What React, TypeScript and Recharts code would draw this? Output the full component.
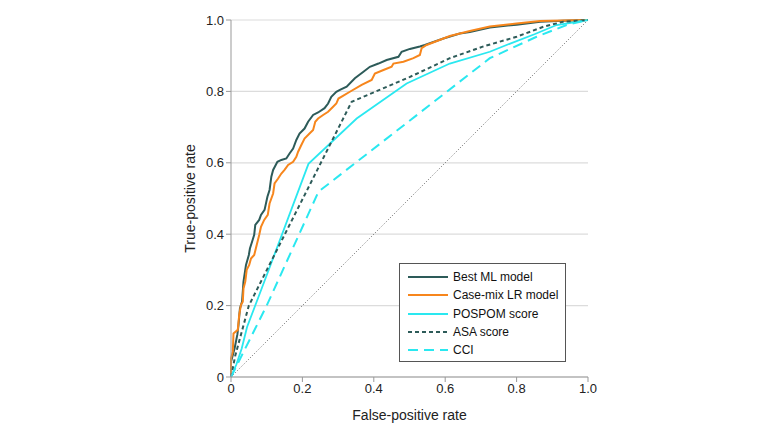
import React from 'react';
import { CartesianGrid, Line, LineChart, XAxis, YAxis } from 'recharts';

// ROC curves (false-positive rate / true-positive rate)
const mlFpr = [0, 0, 0.01, 0.018, 0.021, 0.025, 0.031, 0.035, 0.042, 0.05, 0.053, 0.059, 0.065, 0.068, 0.079, 0.084, 0.094, 0.102, 0.108, 0.113, 0.118, 0.13, 0.141, 0.155, 0.164, 0.174, 0.183, 0.192, 0.206, 0.216, 0.23, 0.244, 0.262, 0.272, 0.281, 0.295, 0.305, 0.324, 0.347, 0.371, 0.389, 0.413, 0.436, 0.469, 0.478, 0.501, 0.529, 0.543, 0.595, 0.641, 0.669, 0.725, 0.8, 0.866, 0.93, 1];
const mlTpr = [0, 0.043, 0.08, 0.12, 0.146, 0.192, 0.211, 0.267, 0.314, 0.342, 0.36, 0.379, 0.398, 0.426, 0.44, 0.454, 0.468, 0.505, 0.524, 0.561, 0.58, 0.603, 0.608, 0.612, 0.626, 0.64, 0.664, 0.682, 0.696, 0.715, 0.734, 0.741, 0.753, 0.766, 0.785, 0.799, 0.804, 0.813, 0.837, 0.855, 0.869, 0.878, 0.888, 0.897, 0.911, 0.919, 0.926, 0.93, 0.948, 0.962, 0.966, 0.979, 0.987, 0.995, 0.998, 1];

const lrFpr = [0, 0, 0.005, 0.007, 0.019, 0.023, 0.028, 0.033, 0.035, 0.04, 0.044, 0.051, 0.056, 0.065, 0.072, 0.079, 0.084, 0.093, 0.103, 0.108, 0.118, 0.122, 0.132, 0.141, 0.15, 0.16, 0.174, 0.183, 0.188, 0.197, 0.206, 0.22, 0.23, 0.236, 0.244, 0.258, 0.272, 0.286, 0.295, 0.301, 0.333, 0.366, 0.394, 0.403, 0.427, 0.45, 0.455, 0.483, 0.511, 0.529, 0.534, 0.548, 0.613, 0.669, 0.725, 0.8, 0.866, 1];
const lrTpr = [0, 0.052, 0.071, 0.122, 0.132, 0.174, 0.202, 0.211, 0.248, 0.267, 0.3, 0.314, 0.332, 0.342, 0.37, 0.398, 0.421, 0.44, 0.454, 0.486, 0.514, 0.542, 0.556, 0.57, 0.58, 0.594, 0.603, 0.617, 0.631, 0.65, 0.668, 0.682, 0.692, 0.715, 0.724, 0.734, 0.743, 0.757, 0.766, 0.78, 0.799, 0.818, 0.832, 0.85, 0.86, 0.869, 0.878, 0.883, 0.893, 0.902, 0.921, 0.93, 0.955, 0.969, 0.982, 0.99, 0.997, 1];

const pospomFpr = [0, 0.015, 0.03, 0.045, 0.1, 0.217, 0.352, 0.492, 0.613, 0.725, 0.782, 0.85, 0.912, 1];
const pospomTpr = [0, 0.035, 0.08, 0.14, 0.285, 0.597, 0.724, 0.822, 0.878, 0.911, 0.934, 0.96, 0.986, 1];

const asaFpr = [0, 0.012, 0.05, 0.338, 0.5, 0.613, 0.707, 0.8, 0.875, 0.93, 1];
const asaTpr = [0, 0.06, 0.2, 0.771, 0.84, 0.893, 0.926, 0.953, 0.981, 0.995, 1];

const cciFpr = [0, 0.03, 0.1, 0.245, 0.725, 0.856, 0.94, 1];
const cciTpr = [0, 0.06, 0.2, 0.519, 0.893, 0.953, 0.986, 1];

const refFpr = [0, 1];
const refTpr = [0, 1];

const ticks = [0, 0.2, 0.4, 0.6, 0.8, 1];

const toPoints = (fpr: number[], tpr: number[]) =>
  fpr.map((f, i) => ({ fpr: f, tpr: tpr[i] }));

const series = [
  { name: 'Best ML model', data: toPoints(mlFpr, mlTpr), color: '#2d5b59', dash: undefined, width: 2 },
  { name: 'Case-mix LR model', data: toPoints(lrFpr, lrTpr), color: '#f7861c', dash: undefined, width: 2 },
  { name: 'POSPOM score', data: toPoints(pospomFpr, pospomTpr), color: '#2ae8f0', dash: undefined, width: 1.8 },
  { name: 'ASA score', data: toPoints(asaFpr, asaTpr), color: '#2d5b59', dash: '4 3', width: 2 },
  { name: 'CCI', data: toPoints(cciFpr, cciTpr), color: '#2ae8f0', dash: '10 6', width: 2 },
];

const font = '"Liberation Sans", Arial, sans-serif';

// legend drawn as a box over the lower right of the plot
const LegendBox = () => (
  <div
    style={{
      position: 'absolute',
      left: 399,
      top: 263,
      border: '1px solid #555',
      background: '#fff',
      padding: '4px 0 0 8px',
      boxSizing: 'border-box',
      width: 167,
      height: 99,
      fontFamily: font,
      fontSize: 12,
      color: '#111',
    }}
  >
    {series.map((s) => (
      <div key={s.name} style={{ display: 'flex', alignItems: 'center', height: 18.3 }}>
        <svg width={40} height={6} style={{ marginRight: 5 }}>
          <line x1={0} y1={3} x2={40} y2={3} stroke={s.color} strokeWidth={s.width} strokeDasharray={s.dash} />
        </svg>
        <span>{s.name}</span>
      </div>
    ))}
  </div>
);

export default function App() {
  return (
    <div style={{ position: 'absolute', left: 0, top: 0, width: 780, height: 432, background: '#fff' }}>
      <LineChart width={780} height={432} margin={{ top: 20, right: 192, bottom: 15, left: 170 }}>
        <CartesianGrid vertical={false} stroke="#dcdcdc" strokeWidth={1.2} />
        <XAxis
          type="number"
          dataKey="fpr"
          domain={[0, 1]}
          ticks={ticks}
          tickFormatter={(v: number) => (v === 0 ? '0' : v.toFixed(1))}
          height={40}
          stroke="#999"
          tickSize={5}
          tick={{ fill: '#222', fontSize: 13, fontFamily: font }}
          label={{ value: 'False-positive rate', position: 'center', dy: 18, fill: '#222', fontSize: 14, fontFamily: font }}
        />
        <YAxis
          type="number"
          dataKey="tpr"
          domain={[0, 1]}
          ticks={ticks}
          tickFormatter={(v: number) => (v === 0 ? '0' : v.toFixed(1))}
          width={61}
          stroke="#999"
          tickSize={5}
          tick={{ fill: '#222', fontSize: 13, fontFamily: font }}
          label={{ value: 'True-positive rate', angle: -90, position: 'center', dx: -10, fill: '#222', fontSize: 14, fontFamily: font }}
        />
        <Line
          data={toPoints(refFpr, refTpr)}
          dataKey="tpr"
          stroke="#666"
          strokeWidth={1}
          strokeDasharray="1 2"
          dot={false}
          legendType="none"
          isAnimationActive={false}
        />
        {series.map((s) => (
          <Line
            key={s.name}
            name={s.name}
            data={s.data}
            dataKey="tpr"
            type="linear"
            stroke={s.color}
            strokeWidth={s.width}
            strokeDasharray={s.dash}
            dot={false}
            isAnimationActive={false}
          />
        ))}
      </LineChart>
      <LegendBox />
    </div>
  );
}
